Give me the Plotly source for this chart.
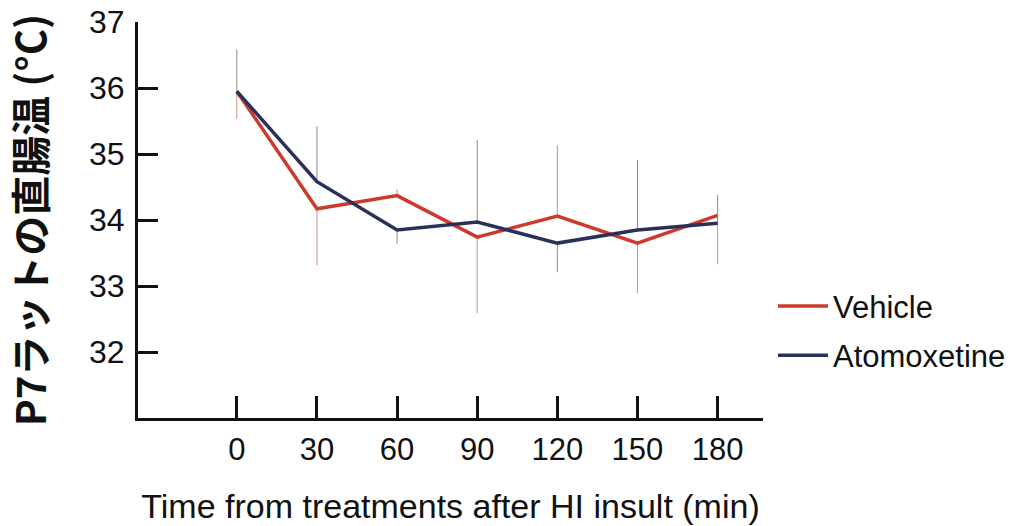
import plotly.graph_objects as go

time_min = [0, 30, 60, 90, 120, 150, 180]
vehicle = [35.95, 34.17, 34.37, 33.74, 34.06, 33.65, 34.07]
atomoxetine = [35.95, 34.58, 33.85, 33.97, 33.65, 33.85, 33.95]
vehicle_err_plus = [0, 0, 0.10, 0, 1.07, 0, 0]
vehicle_err_minus = [0.42, 0.86, 0, 1.15, 0, 0.76, 0.74]
atomox_err_plus = [0.63, 0.84, 0, 1.24, 0, 1.06, 0.43]
atomox_err_minus = [0, 0, 0.21, 0, 0.44, 0, 0]
y_ticks = [32, 33, 34, 35, 36, 37]

RED = "#cc3a2c"
NAVY = "#29305a"
FONT = "Liberation Sans, Arial, sans-serif"

fig = go.Figure()
fig.add_trace(go.Scatter(
    x=time_min, y=vehicle, name="Vehicle", mode="lines",
    line=dict(color=RED, width=3.5), legendgroup="v",
    error_y=dict(type="data", symmetric=False, array=vehicle_err_plus,
                 arrayminus=vehicle_err_minus, color="#c99090", thickness=1, width=0),
))
fig.add_trace(go.Scatter(
    x=time_min, y=atomoxetine, name="Atomoxetine", mode="lines",
    line=dict(color=NAVY, width=3.5), legendgroup="a",
    error_y=dict(type="data", symmetric=False, array=atomox_err_plus,
                 arrayminus=atomox_err_minus, color="#8a8a8a", thickness=1, width=0),
))

fig.update_layout(
    width=1027, height=526,
    margin=dict(l=138, r=264, t=22, b=108, autoexpand=False),
    paper_bgcolor="white", plot_bgcolor="white",
    font=dict(family=FONT, color="#111111", size=30),
    showlegend=True,
    legend=dict(x=1.016, y=0.22, xanchor="left", yanchor="middle",
                font=dict(size=31, family=FONT), itemwidth=50,
                tracegroupgap=6, bgcolor="rgba(0,0,0,0)"),
    xaxis=dict(
        range=[-37, 197], tickvals=time_min, ticktext=[str(t) for t in time_min],
        showline=True, linecolor="#111111", linewidth=3,
        ticks="inside", ticklen=22, tickwidth=3, tickcolor="#111111",
        showgrid=False, zeroline=False, ticklabelstandoff=2, automargin=False,
        tickfont=dict(size=31, family=FONT),
        title=dict(text="Time from treatments after HI insult (min)",
                   font=dict(size=34, family=FONT), standoff=28),
    ),
    yaxis=dict(
        range=[31, 37], tickvals=y_ticks,
        showline=True, linecolor="#111111", linewidth=3,
        ticks="inside", ticklen=20, tickwidth=3, tickcolor="#111111",
        showgrid=False, zeroline=False, ticklabelstandoff=4, automargin=False,
        tickfont=dict(size=32, family=FONT),
        title=dict(text="<b>P7ラットの直腸温 (°C)</b>",
                   font=dict(size=40, family="Noto Sans CJK JP, Liberation Sans, sans-serif"),
                   standoff=43),
    ),
)

fig.write_html("out.html")
